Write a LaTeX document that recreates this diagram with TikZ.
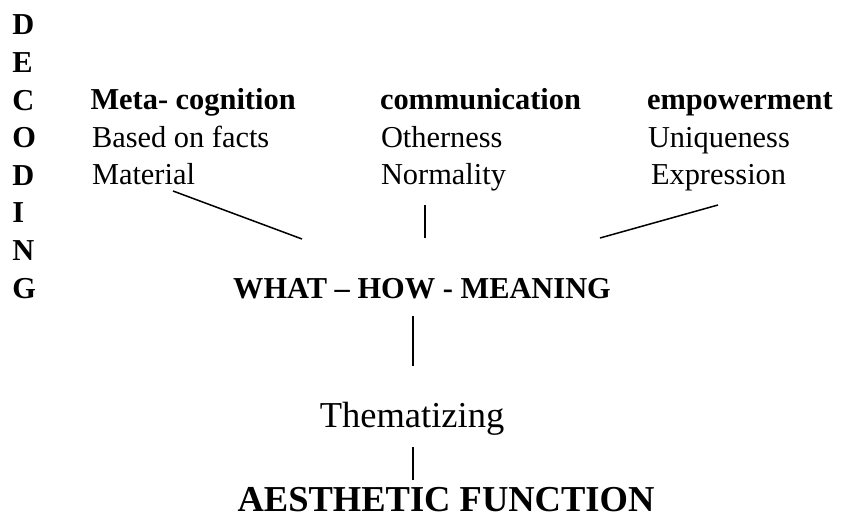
\documentclass[tikz,border=0pt]{standalone}
\usepackage{fontspec}
\setmainfont{Liberation Serif}
\begin{document}
\begin{tikzpicture}[x=1pt,y=-1pt,
  txt/.style={anchor=base west,inner sep=0pt,outer sep=0pt,font=\fontsize{30.4}{36}\selectfont},
  btxt/.style={txt,font=\fontsize{30.4}{36}\selectfont\bfseries},
  bigtxt/.style={anchor=base,inner sep=0pt,outer sep=0pt,font=\fontsize{36.5}{42}\selectfont},
  bigbold/.style={bigtxt,font=\fontsize{36.5}{42}\selectfont\bfseries},
  link/.style={line width=1.5pt,line cap=butt}]
\useasboundingbox (0,0) rectangle (843,518);
% vertical DECODING
\foreach \L [count=\i] in {D,E,C,O,D,I,N,G}{
  \node[btxt] (dec\i) at (12.5,{35+37.6*(\i-1)}) {\L};
}
% column 1
\node[btxt] (meta) at (90.5,110) {Meta- cognition};
\node[txt] (facts) at (92,148) {Based on facts};
\node[txt] (mat) at (92,185) {Material};
% column 2
\node[btxt] (comm) at (380,110) {communication};
\node[txt] (oth) at (381,148) {Otherness};
\node[txt] (norm) at (381,185) {Normality};
% column 3
\node[btxt] (emp) at (647,110) {empowerment};
\node[txt] (uniq) at (648,148) {Uniqueness};
\node[txt] (expr) at (651,185) {Expression};
% centre
\node[btxt,anchor=base] (what) at (422,299) {WHAT -- HOW - MEANING};
\node[bigtxt] (them) at (412,427) {Thematizing};
\node[bigbold] (aes) at (446,511) {AESTHETIC FUNCTION};
% connector ends
\coordinate (m1) at (173,191);
\coordinate (w1) at (302,239);
\coordinate (n1) at (425,205);
\coordinate (w2) at (425,238);
\coordinate (e1) at (718,205);
\coordinate (w3) at (600,238);
\coordinate (w4) at (413,316);
\coordinate (t1) at (413,366);
\coordinate (t2) at (413,447);
\coordinate (a1) at (413,480);
\draw[link] (m1) -- (w1);
\draw[link] (n1) -- (w2);
\draw[link] (e1) -- (w3);
\draw[link] (w4) -- (t1);
\draw[link] (t2) -- (a1);
\end{tikzpicture}
\end{document}
